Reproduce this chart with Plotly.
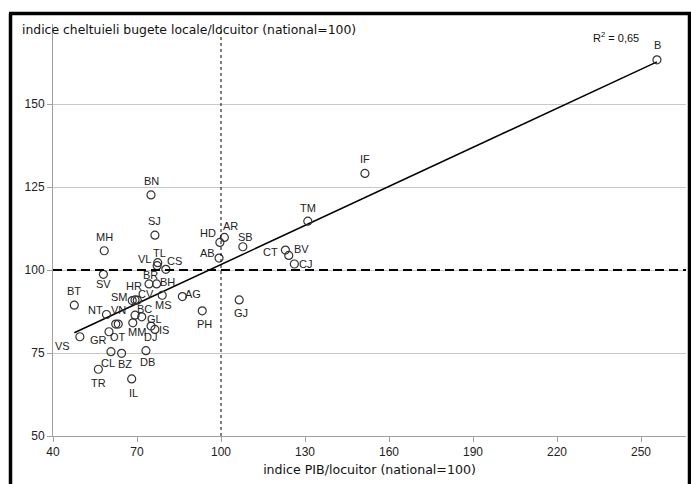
import plotly.graph_objects as go

# ---- data ----
counties = ["B", "IF", "TM", "AR", "HD", "SB", "AB", "CT", "BV", "CJ",
            "GJ", "PH", "AG", "MS", "BN", "SJ", "MH", "TL", "VL", "CS",
            "BR", "BH", "HR", "SM", "CV", "BT", "SV", "NT", "VN", "OT",
            "GR", "BC", "GL", "MM", "DJ", "IS", "VS", "CL", "BZ", "DB",
            "TR", "IL"]
pib_index = [255.7, 151.4, 131.0, 101.2, 99.6, 107.8, 99.3, 123.0, 124.2, 126.2,
             106.5, 93.3, 86.2, 79.0, 75.0, 76.4, 58.3, 77.4, 77.2, 80.3,
             74.3, 77.0, 69.3, 68.3, 70.1, 47.6, 58.0, 59.1, 62.4, 63.3,
             60.0, 69.3, 71.7, 68.5, 75.0, 76.4, 49.6, 60.7, 64.5, 73.2,
             56.2, 68.1]
spend_index = [163.3, 129.1, 114.7, 109.8, 108.3, 107.0, 103.6, 106.0, 104.4, 101.8,
               91.0, 87.7, 92.0, 92.4, 122.6, 110.5, 105.8, 102.2, 101.3, 100.2,
               95.8, 95.8, 91.0, 90.8, 90.9, 89.4, 98.7, 86.6, 83.7, 83.7,
               81.4, 86.4, 85.9, 84.1, 83.1, 82.1, 79.9, 75.4, 74.9, 75.7,
               70.1, 67.2]
trend_x = [47.6, 255.7]
trend_y = [81.1, 162.7]
x_ticks = [40, 70, 100, 130, 160, 190, 220, 250]
y_ticks = [50, 75, 100, 125, 150]

# label offsets in screen pixels (dx right, dy down) from each marker
label_offsets = [(1, -15), (0, -14), (0, -13), (6, -11), (-12, -9),
                 (3, -10), (-12, -5), (-15, 2), (13, -6), (11, 0),
                 (2, 13), (2, 13), (11, -3), (1, 10), (0, -14),
                 (0, -14), (0, -14), (2, -10), (-13, -7), (9, -8),
                 (1, -9), (11, -2), (-1, -14), (-13, -4), (9, -6),
                 (0, -14), (0, 10), (-11, -4), (3, -14), (0, 13),
                 (-11, 8), (9, -6), (13, 2), (4, 9), (-1, 11),
                 (9, 1), (-17, 9), (-3, 11), (3, 11), (2, 11),
                 (0, 14), (2, 14)]

FONT = "Liberation Sans"
TITLE_FONT = "DejaVu Sans"

fig = go.Figure()
fig.add_trace(go.Scatter(
    x=trend_x, y=trend_y, mode="lines",
    line=dict(color="black", width=1.5), hoverinfo="skip", showlegend=False))
fig.add_trace(go.Scatter(
    x=pib_index, y=spend_index, mode="markers",
    marker=dict(symbol="circle-open", size=8, color="#333333",
                line=dict(width=1.2, color="#333333")),
    showlegend=False, cliponaxis=False))

for name, xv, yv, (dx, dy) in zip(counties, pib_index, spend_index, label_offsets):
    fig.add_annotation(x=xv, y=yv, xref="x", yref="y", text=name,
                       showarrow=False, xshift=dx, yshift=-dy,
                       xanchor="center", yanchor="middle",
                       font=dict(family=FONT, size=11, color="#222222"))

# reference lines at national = 100
fig.add_shape(type="line", xref="paper", yref="y", x0=0, x1=1, y0=100, y1=100,
              line=dict(color="black", width=2, dash="9px,5px"), layer="above")
fig.add_shape(type="line", xref="x", yref="paper", x0=100, x1=100, y0=0, y1=1,
              line=dict(color="black", width=1, dash="3px,3px"), layer="above")

# outer frame (left, top, right)
L, R, T, B = 53, 5, 24, 48
W, H = 691, 484
pw, ph = W - L - R, H - T - B
def px(xp):
    return (xp - L) / pw
def py(yp):
    return 1 - (yp - T) / ph
frame = dict(color="black", width=3.5)
fig.add_shape(type="line", xref="paper", yref="paper", x0=px(10.5), x1=px(10.5),
              y0=py(13.5), y1=py(490), line=frame)
fig.add_shape(type="line", xref="paper", yref="paper", x0=px(9), x1=px(695),
              y0=py(13.5), y1=py(13.5), line=frame)
fig.add_shape(type="line", xref="paper", yref="paper", x0=px(689.5), x1=px(689.5),
              y0=py(13.5), y1=py(490), line=frame)

fig.add_annotation(text="indice cheltuieli bugete locale/locuitor (national=100)",
                   xref="paper", yref="paper", x=px(20), y=py(30),
                   xanchor="left", yanchor="middle", showarrow=False,
                   font=dict(family=TITLE_FONT, size=12.4, color="#111111"))
fig.add_annotation(text="R<sup>2</sup> = 0,65",
                   xref="paper", yref="paper", x=px(591), y=py(37),
                   xanchor="left", yanchor="middle", showarrow=False,
                   font=dict(family=FONT, size=11, color="#111111"))

fig.update_xaxes(range=[40, 40 + pw / 2.8], tickvals=x_ticks,
                 showgrid=False, zeroline=False,
                 showline=True, linecolor="#a0a0a0", linewidth=1,
                 ticks="outside", ticklen=5, tickcolor="#a0a0a0",
                 tickfont=dict(family=FONT, size=12, color="#222222"),
                 title=dict(text="indice PIB/locuitor (national=100)", standoff=6,
                            font=dict(family=TITLE_FONT, size=12.6, color="#111111")))
fig.update_yaxes(range=[50, 50 + ph / 3.32], tickvals=y_ticks,
                 showgrid=True, gridcolor="#c8c8c8", gridwidth=1, zeroline=False,
                 showline=True, linecolor="#a0a0a0", linewidth=1,
                 ticks="outside", ticklen=5, tickcolor="#a0a0a0",
                 tickfont=dict(family=FONT, size=12, color="#222222"))

fig.update_layout(width=W, height=H, margin=dict(l=L, r=R, t=T, b=B),
                  plot_bgcolor="white", paper_bgcolor="white",
                  font=dict(family=FONT))
fig.write_html("out.html")
